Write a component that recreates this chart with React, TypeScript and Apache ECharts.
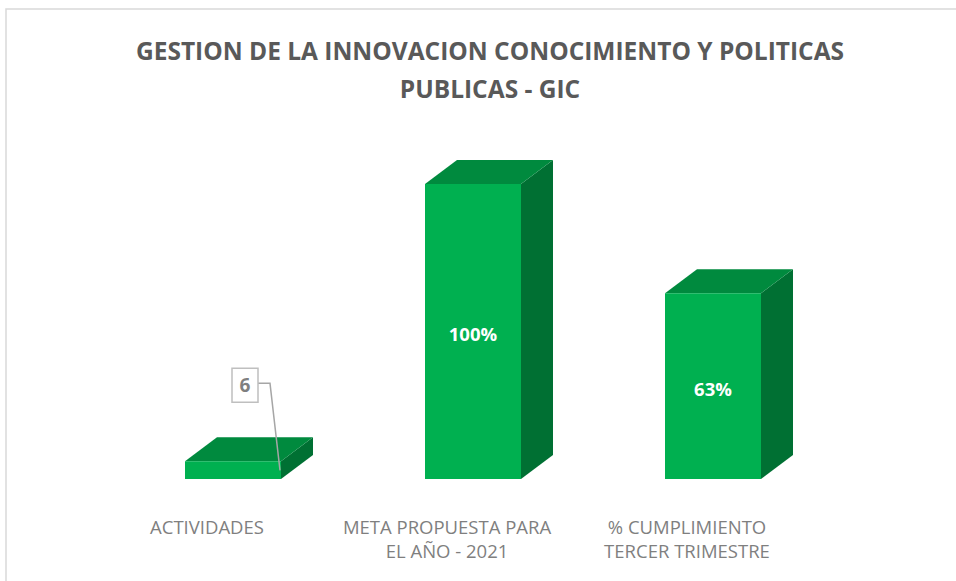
import React, { useEffect, useRef } from "react";
import * as echarts from "echarts";

const categories = ["ACTIVIDADES", "META PROPUESTA PARA\nEL AÑO - 2021", "% CUMPLIMIENTO\nTERCER TRIMESTRE"];
const values = [6, 100, 63];
const labels = ["6", "100%", "63%"];
const titleLines = ["GESTION DE LA INNOVACION CONOCIMIENTO Y POLITICAS", "PUBLICAS - GIC"];

const FONT = "'Open Sans', 'Noto Sans', sans-serif";

export default function App() {
  const ref = useRef<HTMLDivElement>(null);
  useEffect(() => {
    if (!ref.current) return;
    const chart = echarts.init(ref.current, null, { renderer: "svg" });
    const W = 96;
    const OFF = 26;
    const DX = 32;
    const DY = -24;
    chart.setOption({
      animation: false,
      backgroundColor: "#ffffff",
      grid: { left: 87, width: 720, top: 184, bottom: 102 },
      xAxis: {
        type: "category",
        data: categories,
        axisLine: { show: false },
        axisTick: { show: false },
        axisLabel: {
          interval: 0,
          margin: 35,
          color: "#7f7f7f",
          fontSize: 18.5,
          lineHeight: 24,
          fontFamily: FONT,
        },
      },
      yAxis: {
        type: "value",
        min: 0,
        max: 100,
        show: false,
        splitLine: { show: false },
      },
      graphic: [
        {
          type: "rect",
          shape: { x: 6, y: 9, width: 1000, height: 700 },
          style: { fill: "none", stroke: "#d9d9d9", lineWidth: 1.5 },
          silent: true,
        },
        ...titleLines.map((t, i) => ({
          type: "text",
          x: 490,
          y: 50 + i * 38,
          style: {
            text: t,
            align: "center",
            verticalAlign: "middle",
            fill: "#595959",
            font: `bold 24.5px ${FONT}`,
          },
        })),
      ],
      series: [
        {
          type: "custom",
          data: values.map((v, i) => [i, v]),
          renderItem: (params: any, api: any) => {
            const i = api.value(0);
            const v = api.value(1);
            const base = api.coord([i, 0]);
            const top = api.coord([i, v]);
            const cx = base[0] + OFF;
            const x0 = cx - W / 2;
            const x1 = cx + W / 2;
            const yb = base[1];
            const yt = top[1];
            const children: any[] = [
              {
                type: "polygon",
                shape: { points: [[x1, yt], [x1 + DX, yt + DY], [x1 + DX, yb + DY], [x1, yb]] },
                style: { fill: "#007033" },
              },
              {
                type: "polygon",
                shape: { points: [[x0, yt], [x1, yt], [x1 + DX, yt + DY], [x0 + DX, yt + DY]] },
                style: { fill: "#008a3e" },
              },
              {
                type: "rect",
                shape: { x: x0, y: yt, width: W, height: yb - yt },
                style: { fill: "#00b050" },
              },
            ];
            if (i === 0) {
              const bx = x1 - 49;
              const by = yt - 93;
              children.push(
                {
                  type: "polyline",
                  shape: { points: [[x1 - 23, yt - 78], [x1 - 11, yt - 78], [x1 - 1, yt + 9]] },
                  style: { stroke: "#a6a6a6", lineWidth: 1.5, fill: "none" },
                },
                {
                  type: "rect",
                  shape: { x: bx, y: by, width: 26, height: 34 },
                  style: { fill: "#ffffff", stroke: "#bfbfbf", lineWidth: 1.5 },
                },
                {
                  type: "text",
                  style: {
                    text: labels[i],
                    x: bx + 13,
                    y: by + 17,
                    align: "center",
                    verticalAlign: "middle",
                    fill: "#7f7f7f",
                    font: `bold 19px ${FONT}`,
                  },
                }
              );
            } else {
              children.push({
                type: "text",
                style: {
                  text: labels[i],
                  x: cx,
                  y: (yt + yb) / 2 + 2,
                  align: "center",
                  verticalAlign: "middle",
                  fill: "#ffffff",
                  font: `bold 18.5px ${FONT}`,
                },
              });
            }
            return { type: "group", children };
          },
        },
      ],
    });
    return () => chart.dispose();
  }, []);
  return (
    <div
      ref={ref}
      style={{ position: "fixed", left: 0, top: 0, width: 956, height: 581 }}
    />
  );
}
